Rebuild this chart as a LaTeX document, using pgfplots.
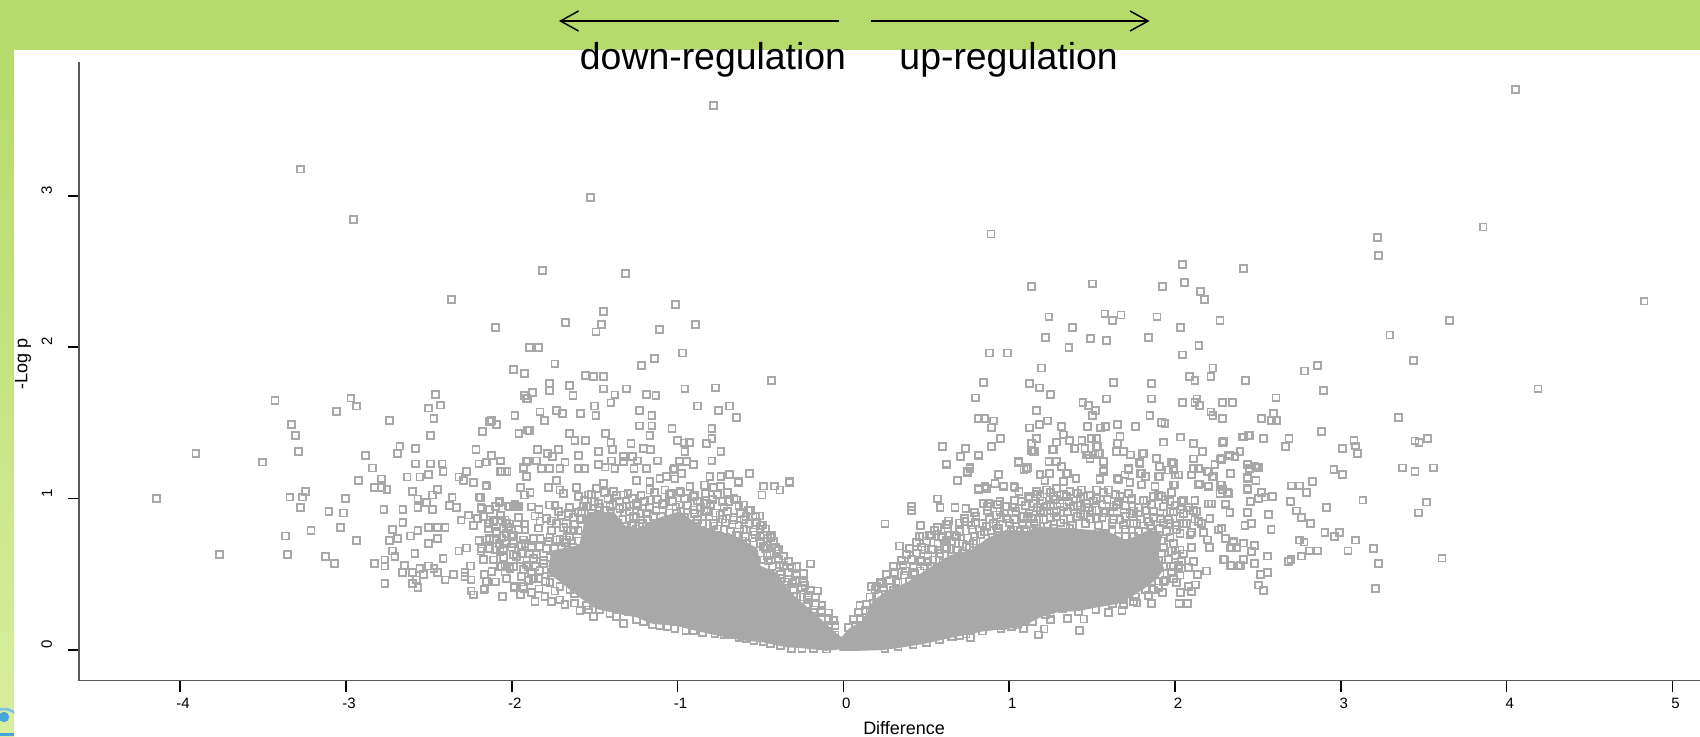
\documentclass[border=0pt]{standalone}
\usepackage{fontspec}
\setmainfont{Liberation Sans}
\usepackage{pgfplots}
\pgfplotsset{compat=1.18}
\usetikzlibrary{arrows.meta}
\definecolor{ptgray}{HTML}{A8A8A8}
\definecolor{bandtop}{HTML}{B6DA6B}
\definecolor{bandlow}{HTML}{D9EE9F}
\definecolor{logoblue}{HTML}{46A6DC}
\pgfplotsset{squares/.style={only marks,mark=square,mark size=1.72pt,mark options={draw=ptgray,line width=0.9pt}}}

\begin{document}
\begin{tikzpicture}[x=1pt,y=1pt]
% page and green slide background, 1 px = 0.5 pt
\useasboundingbox (0,0) rectangle (850,368);
\fill[bandtop] (0,343) rectangle (850,368);
\shade[top color=bandtop,bottom color=bandlow] (0,0) rectangle (7,343);
\begin{scope}
\clip (0,0) rectangle (7,368);
\fill[logoblue] (2,9.5) circle (2.6);
\draw[logoblue!70,line width=1.3] (-6,9) arc[start angle=150,end angle=30,radius=9];
\fill[logoblue] (0,0) rectangle (7,1.6);
\end{scope}

\begin{axis}[
    at={(39.5pt,27.65pt)},
    anchor=south west,
    scale only axis,
    width=810.5pt,
    height=309.35pt,
    xmin=-4.61, xmax=5.166,
    ymin=-0.2028, ymax=3.884,
    axis x line*=bottom,
    axis y line*=left,
    axis line style={color=black!65,line width=0.7pt},
    xtick={-4,-3,-2,-1,0,1,2,3,4,5},
    xticklabels={-4,-3,-2,-1,0,1,2,3,4,5},
    ytick={0,1,2,3},
    yticklabels={0,1,2,3},
    tick align=outside,
    major tick length=5.5pt,
    tick style={black,line width=0.75pt},
    tick label style={font=\fontsize{7.5}{9}\selectfont},
    xticklabel style={xshift=1.5pt,yshift=0.5pt},
    yticklabel style={rotate=90,anchor=south,xshift=2.75pt,yshift=4.45pt},
    xlabel={Difference},
    ylabel={-Log p},
    x label style={at={(axis description cs:0.509,-0.0765)},anchor=center,font=\fontsize{9}{11}\selectfont},
    y label style={at={(axis description cs:-0.0345,0.5127)},anchor=center,rotate=0,font=\fontsize{9}{11}\selectfont},
]
% solid core of the cloud, where the squares merge (left lobe)
\addplot[fill=ptgray,draw=ptgray,line width=0.85pt] coordinates {
(-0.001,0.012)(-0.102,0.0)(-0.262,0.019)(-0.343,0.023)(-0.483,0.056)(-0.624,0.071)(-0.785,0.107)(-0.906,0.137)
(-1.006,0.166)(-1.147,0.177)(-1.247,0.221)(-1.348,0.243)(-1.488,0.276)(-1.589,0.353)(-1.69,0.441)(-1.77,0.507)
(-1.76,0.65)(-1.589,0.69)(-1.549,0.89)(-1.388,0.91)(-1.328,0.82)(-1.227,0.8)(-1.107,0.87)(-0.986,0.91)
(-0.865,0.81)(-0.664,0.75)(-0.524,0.67)(-0.504,0.551)(-0.403,0.507)(-0.323,0.375)(-0.182,0.243)(-0.061,0.122)(0,0.067)
} -- cycle;
% solid core (right lobe)
\addplot[fill=ptgray,draw=ptgray,line width=0.85pt] coordinates {
(-0.02,0.0)(0.08,0.0)(0.231,0.005)(0.331,0.019)(0.482,0.045)(0.643,0.085)(0.844,0.129)(1.065,0.155)
(1.186,0.221)(1.286,0.254)(1.427,0.265)(1.527,0.287)(1.648,0.309)(1.728,0.353)(1.809,0.408)(1.889,0.474)
(1.929,0.54)(1.889,0.628)(1.919,0.76)(1.849,0.79)(1.708,0.72)(1.588,0.78)(1.467,0.79)(1.346,0.8)
(1.186,0.81)(1.105,0.78)(0.985,0.79)(0.864,0.73)(0.784,0.66)(0.643,0.62)(0.552,0.56)(0.482,0.51)
(0.382,0.44)(0.261,0.385)(0.181,0.32)(0.12,0.19)(0.04,0.14)(-0.02,0.067)
} -- cycle;
% individual squares, down-regulated side
\addplot[squares] coordinates {
(-0.785,3.597)(-3.273,3.177)(-1.524,2.988)(-2.955,2.842)(-2.364,2.316)
(-4.144,1.0)(-3.905,1.297)(-3.764,0.629)(-3.503,1.241)(-3.428,1.647)(-3.328,1.49)(-3.306,1.417)(-3.288,1.312)
(-3.338,1.01)(-3.262,1.01)(-3.244,1.046)(-3.274,0.94)(-3.364,0.753)(-3.211,0.788)(-3.352,0.629)(-3.123,0.619)
(-3.069,0.571)(-3.103,0.916)(-3.014,0.905)(-3.002,1.0)(-3.034,0.808)(-2.938,0.724)(-3.057,1.574)(-2.97,1.664)
(-2.936,1.611)(-2.926,1.121)(-2.881,1.286)(-2.841,1.202)(-2.785,1.13)(-2.827,1.072)(-2.785,1.072)(-2.753,1.059)
(-2.771,0.927)(-2.739,1.515)(-2.675,1.347)(-2.689,1.297)(-2.58,1.332)(-2.58,1.229)(-2.492,1.229)(-2.492,1.418)
(-2.47,1.528)(-2.504,1.598)(-2.428,1.618)(-2.46,1.688)(-2.42,1.229)(-2.414,1.178)(-2.631,1.143)(-2.554,1.143)
(-2.504,1.158)(-2.598,1.046)(-2.566,0.998)(-2.48,1.024)(-2.448,1.059)(-2.514,0.976)(-2.566,0.94)(-2.657,0.927)
(-2.48,0.927)(-2.657,0.844)(-2.721,0.795)(-2.689,0.738)(-2.739,0.725)(-2.612,0.753)(-2.566,0.788)(-2.504,0.808)
(-2.448,0.808)(-2.402,0.808)(-2.448,0.738)(-2.504,0.705)(-2.721,0.654)(-2.705,0.619)(-2.584,0.639)(-2.765,0.595)
(-2.827,0.571)(-2.765,0.555)(-2.645,0.557)(-2.661,0.511)(-2.598,0.511)(-2.554,0.538)(-2.534,0.5)(-2.504,0.555)
(-2.47,0.538)(-2.448,0.511)(-2.414,0.606)(-2.402,0.463)(-2.351,0.5)(-2.574,0.463)(-2.765,0.439)(-2.598,0.439)
(-2.566,0.415)(-2.319,0.654)(-2.275,0.674)(-2.247,0.555)(-2.283,0.511)(-2.283,0.485)(-2.245,0.463)(-2.164,0.5)
(-2.154,0.452)(-2.166,0.404)(-2.245,0.39)(-2.229,0.364)(-2.058,0.353)(-1.987,0.415)(-1.947,0.364)(-1.927,0.404)
(-1.939,0.485)(-2.032,0.474)(-2.11,0.595)(-2.186,0.654)(-2.198,0.725)(-2.136,0.674)(-2.136,0.738)(-2.074,0.705)
(-2.052,0.661)(-1.991,0.628)(-2.06,0.551)(-2.01,0.54)(-2.041,0.518)(-1.91,0.562)(-1.935,0.639)(-1.92,0.705)
(-1.991,0.76)(-2.032,0.771)(-2.092,0.771)(-1.923,0.832)(-2.032,0.836)(-2.062,0.858)(-2.112,0.847)(-2.142,0.836)
(-2.186,0.94)(-2.136,0.927)(-2.078,0.976)(-2.021,0.951)(-1.97,0.947)(-2.198,1.01)(-2.154,1.083)(-2.23,1.107)
(-2.292,1.12)(-2.319,1.143)(-2.275,1.178)(-2.198,1.229)(-2.154,1.241)(-2.122,1.286)(-2.066,1.248)(-2.216,1.325)
(-2.06,1.178)(-2.028,1.178)(-1.947,1.074)(-1.921,1.024)(-1.931,1.2)(-1.91,1.244)(-1.91,1.146)(-2.176,1.442)
(-2.122,1.515)(-2.09,1.49)(-2.136,1.508)(-1.981,1.55)(-1.957,1.431)(-1.905,1.453)(-1.926,1.679)(-1.91,1.662)
(-2.208,0.869)(-2.306,0.858)(-2.26,0.891)(-2.23,0.821)(-2.377,0.953)(-2.333,0.94)(-2.36,1.01)
(-1.816,2.508)(-1.316,2.486)(-1.014,2.283)(-1.446,2.235)(-0.894,2.151)(-1.458,2.151)(-1.492,2.101)(-1.675,2.165)
(-1.111,2.116)(-2.1,2.132)(-1.895,1.997)(-1.84,1.997)(-1.141,1.927)(-0.97,1.962)(-1.217,1.879)(-1.74,1.89)
(-1.989,1.854)(-1.925,1.828)(-0.435,1.78)(-1.555,1.815)(-1.509,1.808)(-1.446,1.808)(-1.772,1.76)(-1.772,1.714)
(-1.653,1.747)(-1.631,1.681)(-1.874,1.7)(-1.925,1.681)(-1.905,1.659)(-1.446,1.725)(-1.378,1.685)(-1.308,1.725)
(-1.187,1.689)(-1.131,1.681)(-1.402,1.632)(-1.501,1.612)(-1.493,1.551)(-1.587,1.564)(-1.696,1.564)(-1.73,1.584)
(-1.83,1.573)(-1.804,1.516)(-1.981,1.551)(-2.126,1.509)(-2.092,1.491)(-2.176,1.445)(-1.957,1.432)(-1.892,1.452)
(-1.231,1.584)(-1.155,1.551)(-1.231,1.48)(-1.155,1.48)(-1.167,1.417)(-1.034,1.465)(-0.956,1.725)(-0.771,1.731)
(-0.879,1.612)(-0.753,1.584)(-0.685,1.612)(-0.644,1.535)(-0.793,1.465)(-0.793,1.395)(-0.827,1.364)(-0.739,1.311)
(-1.002,1.384)(-0.962,1.368)(-0.93,1.37)(-0.956,1.311)(-0.793,1.249)(-0.906,1.227)(-0.946,1.243)(-0.99,1.249)
(-1.123,1.249)(-1.281,1.362)(-1.207,1.333)(-1.163,1.326)(-1.434,1.432)(-1.402,1.37)(-1.392,1.326)(-1.478,1.311)
(-1.653,1.432)(-1.619,1.384)(-1.555,1.384)(-1.599,1.287)(-1.72,1.326)(-1.848,1.326)(-1.784,1.296)(-1.754,1.278)
(-1.679,1.241)(-2.122,1.287)(-2.065,1.249)(-1.328,1.278)(-1.271,1.278)(-1.241,1.249)(-1.398,1.249)(-1.328,1.245)
(-1.263,1.197)(-1.378,1.197)(-1.438,1.208)(-1.478,1.227)(-1.599,1.201)(-1.563,1.197)(-1.71,1.197)(-1.77,1.197)
(-1.82,1.197)(-1.931,1.208)(-1.85,1.249)(-1.905,1.249)(-2.067,1.179)(-2.041,1.179)(-2.156,1.241)(-1.187,1.197)
(-1.02,1.197)(-0.974,1.168)(-0.805,1.146)(-0.739,1.146)(-0.685,1.157)(-0.568,1.166)(-0.327,1.113)(-0.634,1.113)
(-1.107,1.135)(-1.066,1.146)
(-0.198,0.569)(-0.282,0.551)(-0.156,0.39)(-0.307,0.441)(-0.232,0.426)(-0.327,1.108)(-0.383,1.057)(-0.415,1.083)
(-0.48,1.083)(-0.491,1.024)(-0.634,1.108)(-0.685,1.16)(-0.741,1.083)(-0.785,1.072)(-0.839,1.09)(-0.757,1.024)
(-0.644,0.991)(-0.695,0.98)(-0.604,0.958)(-0.574,0.925)(-0.504,0.885)(-0.588,0.881)(-0.524,0.841)(-0.488,0.826)
(-0.433,0.756)(-0.459,0.738)(-0.403,0.654)(-0.463,0.672)(-0.534,0.76)(-0.383,0.562)
(-1.846,1.325)(-2.156,1.086)(-1.947,1.075)(-1.89,1.039)(-1.925,1.024)(-1.78,1.075)(-1.73,1.119)(-1.71,1.057)
(-1.69,1.035)(-1.609,1.075)(-1.599,1.013)(-1.539,1.024)(-2.188,1.009)(-2.075,0.98)(-2.015,0.947)(-1.991,0.947)
(-1.961,0.947)(-2.132,0.929)(-2.182,0.936)(-1.836,0.929)(-1.774,0.958)(-1.72,0.914)(-1.66,0.903)(-1.83,0.852)
(-1.76,0.852)(-1.73,0.837)(-1.673,0.837)(-1.92,0.833)(-2.132,0.859)(-2.102,0.859)(-2.041,0.859)(-2.011,0.833)
(-2.092,0.782)(-2.051,0.804)(-1.921,0.793)(-1.665,0.789)(-1.579,0.914)(-1.549,0.947)(-1.478,0.969)(-1.408,0.947)
(-1.308,0.947)(-1.247,0.969)(-1.167,1.057)(-1.328,1.024)(-1.388,1.046)(-1.448,1.101)(-1.488,1.068)(-1.247,1.119)
(-1.167,1.112)(-1.107,1.13)(-1.066,1.145)(-1.016,1.13)(-0.976,1.167)(-1.026,1.189)(-0.986,1.244)(-1.076,1.057)
(-0.986,1.046)(-0.906,1.013)(-0.865,0.98)(-0.825,0.969)(-1.167,0.991)(-1.036,1.035)(-0.926,1.079)
(-2.152,0.727)(-2.132,0.672)(-2.112,0.595)(-2.071,0.551)(-2.011,0.54)(-2.031,0.474)(-2.162,0.5)(-2.156,0.452)
(-2.168,0.401)(-1.985,0.419)(-1.947,0.364)(-1.941,0.485)(-1.931,0.419)(-2.057,0.357)(-1.86,0.32)(-1.87,0.474)
(-1.84,0.474)(-1.836,0.404)(-1.796,0.452)(-1.8,0.353)(-1.76,0.32)(-1.71,0.331)(-1.71,0.419)(-1.649,0.397)
(-1.589,0.261)(-1.509,0.221)(-1.472,0.265)(-1.539,0.265)(-1.408,0.243)(-1.328,0.177)(-1.368,0.221)(-1.298,0.254)
(-1.107,0.162)(-1.207,0.188)(-1.016,0.144)(-0.906,0.129)(-0.775,0.111)(-0.674,0.1)(-0.584,0.078)(-0.483,0.056)(-0.313,0.012)
(-1.991,0.628)(-1.941,0.639)(-1.89,0.639)(-1.85,0.628)(-1.79,0.672)(-1.78,0.716)(-1.87,0.738)(-1.931,0.727)
(-1.991,0.705)(-2.041,0.705)(-2.092,0.727)(-2.142,0.672)(-2.182,0.672)(-2.102,0.661)(-2.051,0.672)(-2.132,0.727)
(-1.901,0.551)(-1.86,0.551)(-1.81,0.573)(-1.71,0.551)(-1.75,0.555)(-1.991,0.551)(-2.041,0.551)(-1.971,0.617)
(-2.071,0.65)(-1.79,0.529)(-1.679,0.496)(-1.619,0.485)(-1.579,0.485)(-1.679,0.639)(-1.669,0.727)(-1.73,0.727)
(-1.629,0.793)(-1.589,0.859)(-1.509,0.881)(-1.458,0.881)(-1.569,0.947)(-1.348,0.936)(-1.267,0.881)(-1.187,0.903)
(-1.147,0.881)(-1.087,0.969)(-0.986,0.958)(-0.906,0.925)(-0.825,0.914)(-0.745,0.892)(-0.664,0.859)(-0.584,0.793)
(-0.504,0.793)(-0.785,0.837)(-0.885,0.837)(-1.006,0.903)(-1.227,0.815)(-1.308,0.815)(-1.267,0.749)(-0.745,0.749)
(-0.644,0.76)(-0.584,0.705)(-0.483,0.683)(-0.443,0.628)(-0.483,0.595)(-0.373,0.474)(-0.353,0.43)(-0.282,0.353)
(-0.212,0.331)(-0.172,0.265)(-0.092,0.166)(-0.051,0.1)
% crowded fringe above and beside the core, estimated by eye
(-1.52,1.03)(-1.44,1.04)(-1.37,1.02)(-1.3,1.035)(-1.22,1.02)(-1.14,1.04)(-1.05,1.025)(-0.98,1.04)(-0.9,1.02)(-0.83,1.035)(-0.76,1.025)(-0.7,1.04)
(-1.56,0.99)(-1.5,0.98)(-1.42,1.0)(-1.35,0.985)(-1.27,1.0)(-1.2,0.98)(-1.12,0.995)(-1.03,0.98)(-0.96,1.0)(-0.88,0.985)(-0.79,0.995)(-0.73,0.98)(-0.66,1.0)
(-1.54,0.95)(-1.47,0.94)(-1.39,0.96)(-1.33,0.945)(-1.24,0.955)(-1.17,0.94)(-1.09,0.96)(-1.01,0.945)(-0.94,0.955)(-0.86,0.94)(-0.8,0.96)(-0.72,0.945)(-0.63,0.955)
(-1.6,0.91)(-1.52,0.9)(-1.44,0.92)(-1.36,0.905)(-1.29,0.915)(-1.22,0.9)(-1.13,0.92)(-1.05,0.905)(-0.98,0.915)(-0.9,0.9)(-0.84,0.92)(-0.77,0.905)(-0.7,0.915)(-0.62,0.9)(-0.56,0.92)
(-1.58,0.87)(-1.5,0.86)(-1.41,0.88)(-1.33,0.865)(-1.25,0.875)(-1.18,0.86)(-1.1,0.88)(-1.03,0.865)(-0.96,0.875)(-0.88,0.86)(-0.81,0.88)(-0.73,0.865)(-0.66,0.875)(-0.6,0.86)(-0.53,0.88)
(-1.62,0.83)(-1.54,0.82)(-1.36,0.84)(-1.28,0.825)(-1.21,0.835)(-1.14,0.82)(-1.06,0.84)(-0.92,0.825)(-0.85,0.835)(-0.78,0.82)(-0.71,0.84)(-0.63,0.825)(-0.57,0.835)(-0.5,0.82)
(-1.6,0.79)(-1.34,0.785)(-1.25,0.8)(-1.17,0.78)(-1.08,0.795)(-0.82,0.78)(-0.76,0.8)(-0.68,0.785)(-0.6,0.795)(-0.54,0.78)(-0.47,0.8)
(-1.65,0.75)(-1.3,0.74)(-1.23,0.76)(-1.15,0.745)(-1.02,0.755)(-0.87,0.74)(-0.8,0.76)(-0.71,0.745)(-0.63,0.755)(-0.55,0.74)(-0.48,0.76)(-0.44,0.745)
(-1.68,0.71)(-1.6,0.72)(-1.26,0.705)(-0.83,0.715)(-0.77,0.7)(-0.61,0.72)(-0.5,0.705)(-0.42,0.715)
(-1.7,0.67)(-1.63,0.68)(-0.47,0.67)(-0.41,0.68)(-0.39,0.665)(-1.72,0.63)(-1.65,0.64)(-0.46,0.625)(-0.4,0.635)(-0.36,0.62)
(-0.45,0.59)(-0.39,0.6)(-0.33,0.585)(-0.43,0.55)(-0.36,0.56)(-0.31,0.545)(-0.38,0.5)(-0.33,0.51)(-0.28,0.495)(-0.24,0.505)
(-0.34,0.45)(-0.29,0.46)(-0.24,0.445)(-0.3,0.4)(-0.25,0.41)(-0.2,0.395)(-0.26,0.35)(-0.21,0.36)(-0.17,0.345)
(-0.22,0.3)(-0.17,0.31)(-0.13,0.295)(-0.18,0.25)(-0.13,0.26)(-0.09,0.245)(-0.13,0.2)(-0.09,0.21)(-0.06,0.195)(-0.09,0.15)(-0.05,0.16)
(-2.1,0.95)(-1.98,0.96)(-1.88,0.945)(-1.74,0.955)(-1.65,0.94)(-2.17,0.88)(-2.07,0.89)(-1.96,0.875)(-1.86,0.885)(-1.79,0.87)(-1.7,0.89)(-1.63,0.875)
(-2.14,0.8)(-2.02,0.81)(-1.96,0.795)(-1.84,0.805)(-1.76,0.79)(-1.69,0.81)(-2.06,0.74)(-2.0,0.75)(-1.83,0.735)(-1.77,0.745)(-1.71,0.73)
(-2.0,0.68)(-1.94,0.69)(-1.88,0.675)(-1.83,0.685)(-1.74,0.67)(-2.17,0.6)(-2.05,0.61)(-1.95,0.595)(-1.87,0.605)(-1.81,0.59)(-1.77,0.61)
(-2.12,0.52)(-1.93,0.53)(-1.88,0.515)(-1.83,0.525)(-1.76,0.51)(-1.7,0.53)(-2.1,0.45)(-1.9,0.46)(-1.77,0.445)(-1.66,0.455)(-1.62,0.44)
(-1.88,0.38)(-1.74,0.39)(-1.62,0.375)(-1.56,0.385)(-1.68,0.3)(-1.62,0.31)(-1.55,0.295)(-1.45,0.305)(-1.35,0.29)
(-1.25,0.2)(-1.15,0.17)(-1.06,0.155)(-0.95,0.13)(-0.85,0.115)(-0.72,0.1)(-0.63,0.08)(-0.54,0.06)(-0.44,0.04)(-0.38,0.03)(-0.25,0.01)(-0.18,0.012)(-0.1,0.006)
};
% individual squares, up-regulated side
\addplot[squares] coordinates {
(4.054,3.703)(3.858,2.794)(3.221,2.723)(3.227,2.605)(0.89,2.748)(4.829,2.305)
(2.043,2.545)(2.411,2.519)(1.133,2.402)(1.503,2.418)(1.925,2.402)(2.055,2.426)(2.152,2.367)(2.176,2.316)
(1.239,2.2)(1.577,2.22)(1.621,2.176)(1.674,2.213)(1.891,2.2)(2.271,2.176)(1.38,2.129)(1.219,2.066)
(1.36,1.997)(1.489,2.057)(1.587,2.046)(1.84,2.066)(2.033,2.129)(2.144,2.011)(2.043,1.949)(0.882,1.962)
(0.988,1.962)(1.195,1.863)(2.228,1.863)(2.088,1.808)(2.12,1.782)(2.216,1.808)(2.425,1.782)(0.845,1.769)
(1.121,1.76)(1.183,1.731)(1.249,1.689)(1.629,1.769)(1.858,1.76)(0.795,1.665)(1.587,1.659)(1.858,1.659)
(1.444,1.634)(1.479,1.615)(1.521,1.584)(1.503,1.551)(1.165,1.584)(2.043,1.634)(2.12,1.634)(2.132,1.659)
(2.146,1.615)(2.285,1.634)(2.349,1.634)(2.216,1.573)(2.228,1.549)(2.285,1.529)(2.522,1.529)(1.848,1.551)
(1.919,1.502)(1.939,1.494)(0.813,1.529)(0.849,1.529)(0.904,1.513)(0.892,1.467)(1.229,1.513)(1.183,1.491)
(1.121,1.467)(1.316,1.478)(1.471,1.478)(1.551,1.467)(1.581,1.478)(1.653,1.491)(1.762,1.478)(0.948,1.395)
(1.165,1.395)(1.326,1.421)(1.362,1.386)(1.286,1.373)(1.438,1.386)(1.497,1.395)(1.527,1.395)(1.668,1.41)
(1.651,1.366)(2.033,1.406)(1.929,1.373)(2.11,1.362)(2.285,1.373)(2.411,1.406)(2.445,1.417)(2.534,1.395)
(0.596,1.346)(0.737,1.331)(0.892,1.346)(1.133,1.362)(1.259,1.326)(1.394,1.331)(1.456,1.331)(1.533,1.346)
(0.703,1.276)(0.813,1.289)(1.133,1.315)(1.155,1.311)(1.647,1.311)(1.688,1.311)(1.732,1.289)(1.808,1.298)
(2.164,1.311)(2.391,1.311)(2.327,1.289)(2.361,1.276)(0.62,1.227)(1.056,1.243)(1.239,1.245)(1.286,1.245)
(1.467,1.289)(1.487,1.267)(1.517,1.289)(1.547,1.3)(1.316,1.212)(1.571,1.245)(1.784,1.238)(1.891,1.262)
(2.11,1.262)(2.271,1.262)(2.24,1.227)(2.437,1.227)(1.905,1.212)(1.979,1.238)(1.089,1.194)(1.111,1.205)
(0.763,1.205)(0.749,1.177)(0.687,1.12)(0.934,1.157)(1.185,1.159)(1.241,1.166)(1.35,1.166)(1.402,1.131)
(1.571,1.19)(1.718,1.197)(1.792,1.168)(1.824,1.146)(1.905,1.146)(1.989,1.19)(2.11,1.201)(2.14,1.201)
(2.196,1.179)(2.226,1.142)(2.335,1.166)(2.451,1.201)(2.492,1.208)(2.437,1.142)(2.488,1.12)(2.019,1.157)
(2.1,1.157)(1.547,1.135)(1.651,1.131)(1.698,1.157)(1.728,1.109)(1.798,1.091)(1.326,1.113)(1.215,1.12)
(0.914,1.098)(0.964,1.084)(1.028,1.08)(0.853,1.08)(0.813,1.069)(2.14,1.095)(2.2,1.084)(2.271,1.091)
(1.879,1.08)(2.0,1.091)(2.437,1.069)
(0.599,1.347)(0.737,1.334)(0.705,1.277)(0.814,1.286)(0.89,1.347)(0.619,1.229)(0.687,1.119)(0.763,1.2)
(0.747,1.174)(0.934,1.16)(1.057,1.24)(1.105,1.2)(1.186,1.16)(1.242,1.167)(1.24,1.244)(1.286,1.244)
(1.316,1.211)(1.346,1.167)(1.403,1.13)(0.566,0.998)(0.412,0.947)(0.412,0.921)(0.251,0.833)(0.583,0.94)
(0.673,0.94)(0.739,0.936)(0.337,0.687)(0.466,0.822)(0.566,0.808)(0.633,0.852)(0.478,0.753)(0.532,0.753)
(0.593,0.749)(0.733,0.848)(0.794,0.844)(0.814,1.061)(0.864,1.068)(0.914,1.097)(0.964,1.079)(0.844,0.969)
(0.874,0.969)(0.944,0.98)(1.035,0.943)(1.035,1.072)(1.059,1.046)(1.115,1.013)(0.17,0.419)(0.2,0.419)
(0.231,0.441)(0.317,0.452)(0.396,0.452)(0.376,0.522)(0.422,0.514)(0.462,0.522)(0.506,0.584)(0.462,0.595)
(0.526,0.551)(0.492,0.661)(0.532,0.665)(0.583,0.661)(0.623,0.672)(0.683,0.661)(0.743,0.683)(0.864,0.815)
(0.934,0.804)(1.025,0.793)(1.105,0.793)(1.176,0.1)(1.21,0.139)(1.423,0.129)(0.767,0.082)(0.703,0.093)
(0.653,0.089)(1.085,0.144)(1.015,0.155)(0.954,0.159)(1.859,0.309)(2.024,0.309)(2.074,0.309)(1.925,0.379)
(1.869,0.397)(2.034,0.382)(2.1,0.386)(2.124,0.43)(2.08,0.419)(1.748,0.32)(1.688,0.335)(1.624,0.305)
(1.523,0.266)(1.417,0.255)(1.322,0.272)(1.246,0.243)(2.134,0.5)(2.19,0.522)(2.11,0.584)(2.02,0.551)
(1.99,0.551)(1.99,0.474)(1.929,0.452)(1.819,0.397)(2.301,0.595)(2.341,0.555)(2.381,0.555)(2.207,0.676)
(2.1,0.676)(2.03,0.661)(1.98,0.654)(2.341,0.676)(2.371,0.676)(2.305,0.738)(2.351,0.716)(2.197,0.727)
(2.261,0.793)(2.171,0.775)(2.1,0.775)(2.14,0.848)(2.21,0.87)(2.331,0.907)(2.301,0.965)(2.2,0.965)
(2.22,0.965)(2.12,0.987)(2.05,0.991)(2.09,0.925)(2.03,0.925)(1.97,0.98)(1.919,1.013)(1.869,1.013)
(1.809,0.987)(1.748,0.918)(1.829,0.918)(2.321,1.035)(2.271,1.035)(2.271,1.09)(2.2,1.079)(2.15,1.097)
(2.23,1.145)(2.337,1.167)(2.2,1.178)(2.331,1.281)(2.281,1.266)(2.164,1.31)(2.11,1.2)(2.11,1.361)
(2.291,1.376)(1.99,1.233)(1.96,1.189)(2.0,1.156)(1.99,1.09)(1.899,1.145)(1.889,1.266)(1.909,1.211)
(1.819,1.145)(1.798,1.167)(1.789,1.233)(1.805,1.299)(1.732,1.288)(1.718,1.189)(1.698,1.156)(1.658,1.123)
(1.728,1.108)(1.567,1.244)(1.567,1.178)(1.547,1.123)(1.477,1.288)(1.537,1.299)(1.397,1.332)(1.457,1.332)
(1.527,1.343)(1.266,1.321)(1.145,1.31)(1.135,1.365)
(1.165,1.046)(1.226,1.057)(1.286,1.068)(1.366,1.046)(1.437,1.057)(1.527,1.057)(1.598,1.057)(1.668,1.013)
(1.738,0.991)(1.467,0.969)(1.387,0.947)(1.306,0.969)(1.226,0.947)(1.145,0.969)(1.075,0.98)(1.135,0.87)
(1.206,0.859)(1.286,0.881)(1.366,0.87)(1.447,0.892)(1.527,0.87)(1.608,0.914)(1.668,0.859)(1.748,0.837)
(1.839,0.848)(1.909,0.87)(1.99,0.914)(2.05,0.837)(2.13,0.914)(2.16,0.837)(2.09,0.76)(2.03,0.771)
(1.97,0.837)(1.909,0.804)(1.799,0.683)(1.879,0.705)(1.819,0.782)(1.748,0.749)(1.658,0.749)(1.567,0.771)
(1.447,0.76)(1.366,0.804)(1.266,0.804)(1.165,0.804)(1.105,0.782)(0.985,0.87)(0.924,0.892)(0.904,0.837)
(0.824,0.76)(0.784,0.705)(0.683,0.749)(0.623,0.727)(0.583,0.639)(0.985,0.947)(1.085,0.881)(0.944,0.914)
(1.266,1.013)(1.346,1.013)(1.447,1.013)(1.527,1.002)(1.186,1.013)(1.648,0.958)(1.527,0.925)(1.286,0.914)
(1.206,0.914)(1.427,0.925)(1.728,0.903)(1.869,0.914)
(3.654,2.176)(3.296,2.081)(3.437,1.914)(4.189,1.725)(2.858,1.879)(2.782,1.843)(2.426,1.782)(2.894,1.714)
(2.609,1.665)(2.347,1.634)(2.287,1.634)(2.52,1.529)(2.593,1.564)(2.583,1.516)(2.613,1.516)(2.287,1.529)
(3.348,1.535)(2.884,1.445)(3.447,1.381)(3.471,1.37)(3.523,1.397)(3.079,1.384)(3.087,1.348)(3.101,1.3)
(3.011,1.333)(2.532,1.395)(2.687,1.395)(2.665,1.346)(2.448,1.419)(2.408,1.408)(2.287,1.37)(2.392,1.311)
(2.361,1.274)(2.321,1.289)(2.281,1.26)(2.438,1.229)(2.502,1.205)(2.482,1.216)(2.452,1.2)(2.335,1.166)
(2.438,1.135)(2.488,1.117)(2.438,1.06)(2.281,1.091)(2.287,1.058)(2.317,1.04)(2.52,1.042)(2.502,1.003)
(2.542,1.01)(2.589,1.012)(2.456,0.979)(2.303,0.963)(2.331,0.908)(2.438,0.908)(2.564,0.893)(2.958,1.192)
(3.011,1.159)(3.372,1.203)(3.447,1.179)(3.557,1.203)(2.703,1.084)(2.749,1.084)(2.794,1.04)(2.828,1.111)
(2.697,0.979)(2.731,0.919)(2.763,0.875)(2.816,0.834)(2.914,0.941)(3.133,0.99)(3.515,0.977)(3.469,0.906)
(2.904,0.774)(2.96,0.752)(2.993,0.774)(3.087,0.726)(3.043,0.655)(3.196,0.671)(3.228,0.572)(3.61,0.607)
(3.208,0.405)(2.749,0.726)(2.778,0.713)(2.81,0.655)(2.858,0.655)(2.763,0.62)(2.683,0.585)(2.699,0.596)
(2.579,0.798)(2.462,0.834)(2.422,0.823)(2.281,0.805)(2.301,0.739)(2.351,0.713)(2.412,0.706)(2.478,0.691)
(2.331,0.673)(2.372,0.673)(2.462,0.651)(2.556,0.62)(2.412,0.596)(2.291,0.596)(2.335,0.559)(2.396,0.559)
(2.478,0.572)(2.516,0.501)(2.556,0.51)(2.502,0.429)(2.532,0.391)
% crowded fringe above and beside the core, estimated by eye
(1.17,1.03)(1.25,1.04)(1.33,1.025)(1.41,1.035)(1.49,1.02)(1.57,1.04)(1.64,1.025)(1.72,1.035)(1.9,1.02)(1.98,1.04)
(1.03,0.99)(1.12,1.0)(1.2,0.985)(1.28,0.995)(1.36,0.98)(1.43,1.0)(1.51,0.985)(1.59,0.995)(1.66,0.98)(1.74,1.0)(1.83,0.985)(1.94,0.995)(2.04,0.98)
(0.87,0.95)(0.93,0.96)(1.02,0.945)(1.1,0.955)(1.17,0.94)(1.25,0.96)(1.33,0.945)(1.41,0.955)(1.48,0.94)(1.56,0.96)(1.63,0.945)(1.7,0.955)(1.78,0.94)(1.86,0.96)(1.93,0.945)(2.0,0.955)(2.08,0.94)
(0.79,0.91)(0.87,0.92)(0.97,0.905)(1.04,0.915)(1.12,0.9)(1.19,0.92)(1.27,0.905)(1.35,0.915)(1.43,0.9)(1.5,0.92)(1.58,0.905)(1.65,0.915)(1.74,0.9)(1.82,0.92)(1.91,0.905)(1.97,0.915)(2.05,0.9)(2.11,0.92)
(0.73,0.87)(0.8,0.88)(0.88,0.865)(0.95,0.875)(1.03,0.86)(1.11,0.88)(1.18,0.865)(1.25,0.875)(1.33,0.86)(1.41,0.88)(1.49,0.865)(1.56,0.875)(1.63,0.86)(1.7,0.88)(1.79,0.865)(1.87,0.875)(1.96,0.86)(2.03,0.88)(2.12,0.865)
(0.62,0.83)(0.7,0.84)(0.77,0.825)(0.84,0.835)(0.92,0.82)(1.0,0.84)(1.08,0.825)(1.15,0.835)(1.23,0.82)(1.31,0.84)(1.38,0.825)(1.46,0.835)(1.54,0.82)(1.62,0.84)(1.69,0.825)(1.77,0.835)(1.85,0.82)(1.93,0.84)(2.0,0.825)(2.07,0.835)
(0.55,0.79)(0.63,0.8)(0.7,0.785)(0.78,0.795)(0.85,0.78)(0.93,0.8)(1.01,0.785)(1.09,0.795)(1.62,0.785)(1.7,0.795)(1.78,0.78)(1.86,0.8)(1.95,0.785)(2.01,0.795)
(0.46,0.75)(0.52,0.76)(0.6,0.745)(0.67,0.755)(0.75,0.74)(0.83,0.76)(0.9,0.745)(0.98,0.755)(1.06,0.74)(1.7,0.75)(1.79,0.74)(1.88,0.76)(1.97,0.745)
(0.44,0.71)(0.5,0.72)(0.57,0.705)(0.65,0.715)(0.72,0.7)(0.8,0.72)(0.88,0.705)(0.95,0.715)(1.74,0.71)(1.83,0.7)(1.92,0.72)(1.99,0.705)
(0.4,0.67)(0.47,0.68)(0.54,0.665)(0.61,0.675)(0.69,0.66)(0.76,0.68)(0.83,0.665)(0.9,0.675)(1.7,0.67)(1.78,0.68)(1.86,0.665)(1.93,0.675)(2.0,0.66)
(0.38,0.63)(0.44,0.64)(0.51,0.625)(0.58,0.635)(0.65,0.62)(0.72,0.64)(0.8,0.625)(1.85,0.63)(1.92,0.64)(2.0,0.625)(2.05,0.635)
(0.35,0.59)(0.41,0.6)(0.47,0.585)(0.54,0.595)(0.6,0.58)(0.68,0.6)(1.9,0.59)(1.96,0.6)(2.04,0.585)
(0.3,0.55)(0.36,0.56)(0.42,0.545)(0.49,0.555)(1.93,0.55)(2.02,0.56)(2.08,0.545)
(0.26,0.5)(0.31,0.51)(0.37,0.495)(0.43,0.505)(1.91,0.5)(1.98,0.51)(2.03,0.495)
(0.22,0.45)(0.28,0.46)(0.33,0.445)(1.86,0.45)(1.94,0.46)(2.01,0.445)(0.19,0.4)(0.24,0.41)(0.3,0.395)(1.82,0.4)(1.9,0.41)
(0.16,0.35)(0.21,0.36)(0.27,0.345)(1.76,0.35)(1.84,0.36)(0.14,0.3)(0.18,0.31)(0.1,0.295)(1.69,0.3)(1.77,0.31)
(0.09,0.25)(0.13,0.26)(0.16,0.245)(1.6,0.25)(1.68,0.26)(0.06,0.2)(0.1,0.21)(0.14,0.195)(1.25,0.2)(1.35,0.21)(1.45,0.205)(0.03,0.15)(0.07,0.16)
(0.25,0.012)(0.33,0.025)(0.42,0.035)(0.5,0.05)(0.58,0.07)(0.66,0.09)(0.74,0.105)(0.84,0.125)(0.95,0.14)(1.05,0.165)(1.14,0.19)(1.22,0.235)
};
\end{axis}

% regulation arrows and their labels
\draw[line width=0.75pt,-{Straight Barb[length=9pt,width=10pt,line width=0.75pt]}] (419.25,357.5) -- (279.5,357.5);
\draw[line width=0.75pt,-{Straight Barb[length=9pt,width=10pt,line width=0.75pt]}] (435.3,357.5) -- (574.8,357.5);
\node[anchor=base,inner sep=0pt,font=\fontsize{18.7}{22}\selectfont] at (356.5,333.5) {down-regulation};
\node[anchor=base,inner sep=0pt,font=\fontsize{18.7}{22}\selectfont] at (504.3,333.5) {up-regulation};
\end{tikzpicture}
\end{document}
